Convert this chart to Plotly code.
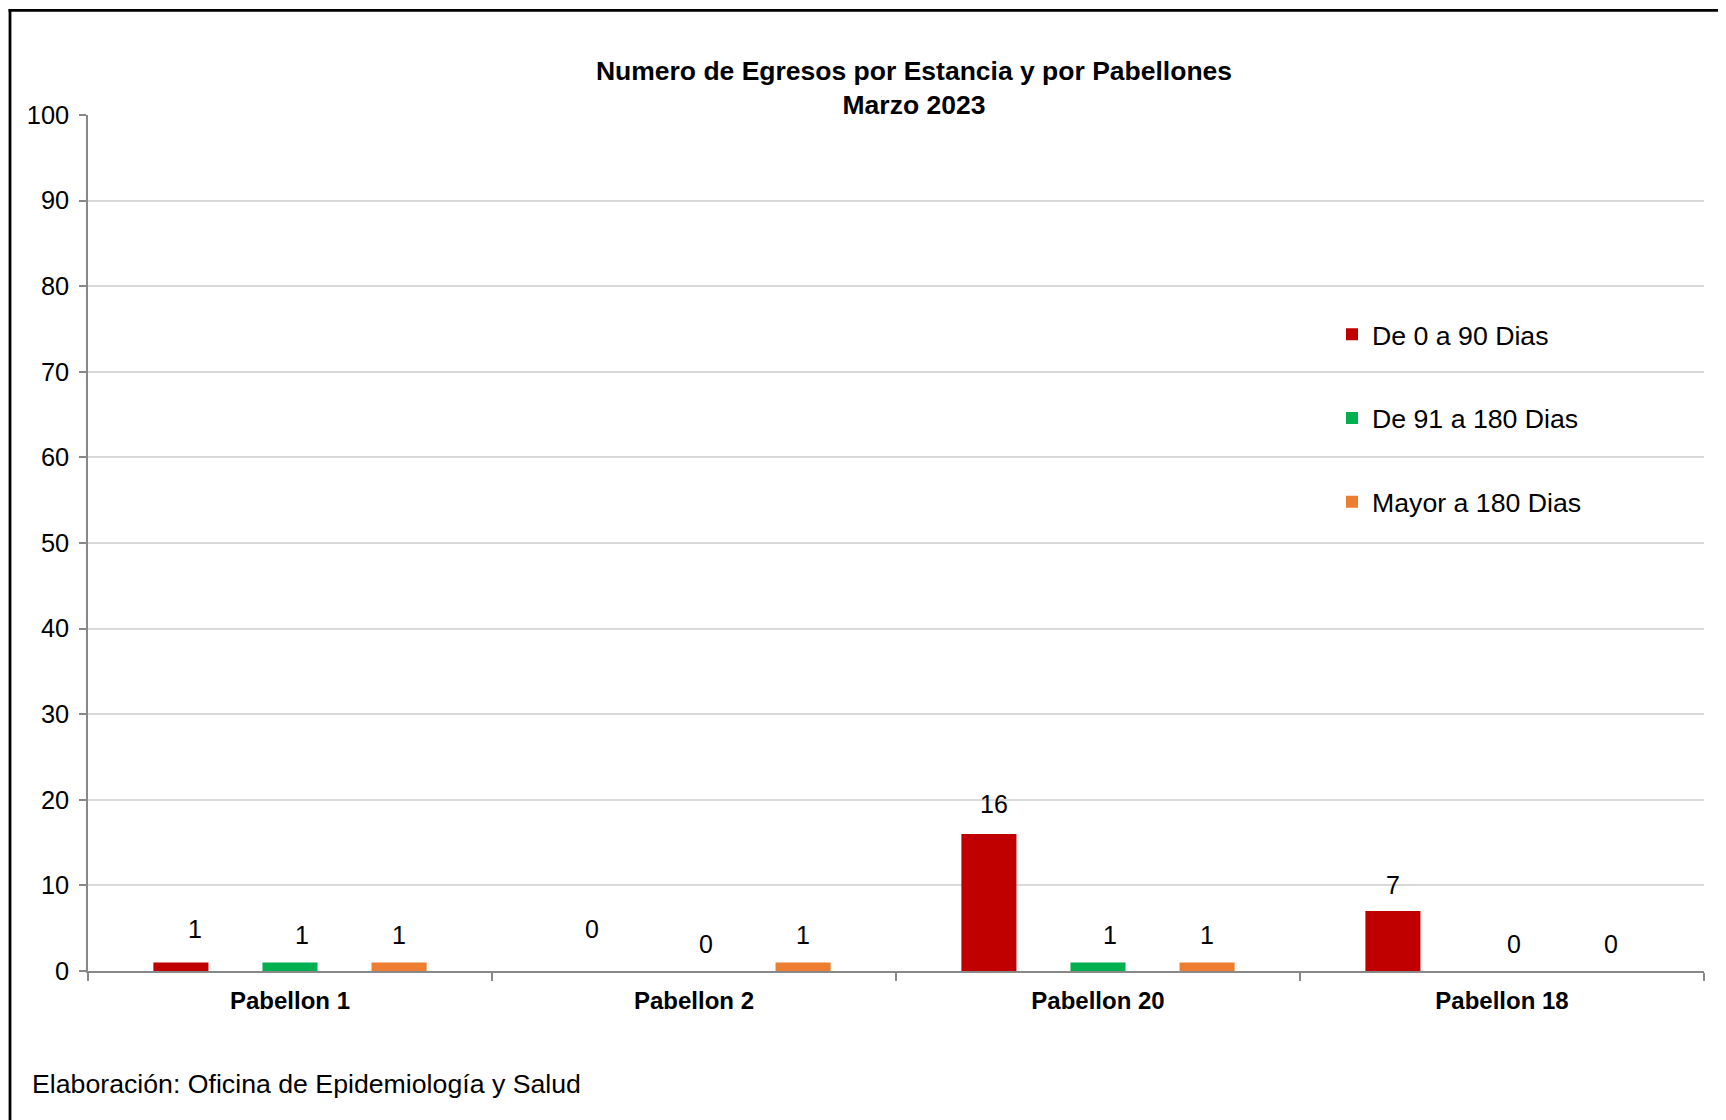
import plotly.graph_objects as go

categories = ["Pabellon 1", "Pabellon 2", "Pabellon 20", "Pabellon 18"]
series_names = ["De 0 a 90 Dias", "De 91 a 180 Dias", "Mayor a 180 Dias"]
de_0_a_90 = [1, 0, 16, 7]
de_91_a_180 = [1, 0, 1, 0]
mayor_180 = [1, 1, 1, 0]
y_ticks = list(range(0, 101, 10))

colors = ["#C00000", "#00B050", "#ED7D31"]
series_values = [de_0_a_90, de_91_a_180, mayor_180]
# label nudges (pixels) mimicking the manual placement of the original labels
label_dx = [[14, 7, 5, 0], [12, 12, 12, 12], [0, 0, 0, 0]]
label_dy = [[6, 15, 3, -1], [0, 0, 0, 0], [0, 0, 0, 0]]

FONT = "Arial, Liberation Sans, sans-serif"
OFF = 8  # page body margin
W, H = 1726 - OFF, 1120 - OFF
L = 88 - OFF
R = W - (1704 - OFF)
T = 114.5 - OFF
B = H - (971 - OFF)
pw = W - L - R
ph = H - T - B
bargap = 0.19
bargroupgap = 0.495


def px_x(page_x):
    return (page_x - OFF - L) / pw


def px_y(page_y):
    return ((H - B) - (page_y - OFF)) / ph


fig = go.Figure()
for name, vals, col in zip(series_names, series_values, colors):
    fig.add_trace(go.Bar(
        name=name, x=categories, y=vals, marker=dict(color=col, line=dict(width=0)),
        legendgroup=name,
    ))

slot = (1 - bargap) / len(series_values)
annotations = []
for j, vals in enumerate(series_values):
    for i, v in enumerate(vals):
        annotations.append(dict(
            x=i + (j - 1) * slot, y=v, xref="x", yref="y", text=str(v),
            showarrow=False, yanchor="middle", yshift=27 + label_dy[j][i], xshift=label_dx[j][i],
            font=dict(family=FONT, size=25, color="#000000"),
        ))

annotations.append(dict(
    x=px_x(30), y=px_y(1084), xref="paper", yref="paper",
    text="Elaboración: Oficina de Epidemiología y Salud", showarrow=False,
    xanchor="left", yanchor="middle", font=dict(family=FONT, size=26.7, color="#000000"),
))

shapes = [
    dict(type="line", xref="paper", yref="paper", x0=px_x(10), x1=px_x(10),
         y0=px_y(8.5), y1=px_y(1140), line=dict(color="#000000", width=2.8)),
    dict(type="line", xref="paper", yref="paper", x0=px_x(8.6), x1=px_x(1760),
         y0=px_y(9.8), y1=px_y(9.8), line=dict(color="#000000", width=2.8)),
]

fig.update_layout(
    width=W, height=H,
    margin=dict(l=L, r=R, t=T, b=B, autoexpand=False),
    paper_bgcolor="#FFFFFF", plot_bgcolor="#FFFFFF",
    barmode="group", bargap=bargap, bargroupgap=bargroupgap,
    title=dict(
        text="<b>Numero de Egresos por Estancia y por Pabellones<br>Marzo 2023</b>",
        x=(914 - OFF) / W, xanchor="center", y=1 - 71.5 / H, yanchor="top",
        font=dict(family=FONT, size=26.5, color="#000000"),
    ),
    font=dict(family=FONT, color="#000000"),
    legend=dict(
        x=px_x(1332), xanchor="left", y=px_y(310), yanchor="top",
        font=dict(family=FONT, size=26.7, color="#000000"),
        tracegroupgap=46, bgcolor="rgba(0,0,0,0)", traceorder="grouped",
    ),
    xaxis=dict(
        showline=True, linecolor="#888888", linewidth=1.5,
        ticks="outside", tickson="boundaries", ticklen=8, tickcolor="#888888", tickwidth=1.5,
        tickfont=dict(family=FONT, size=24, color="#000000"),
        ticklabelstandoff=7,
        showgrid=False,
    ),
    yaxis=dict(
        range=[0, 100], tickvals=y_ticks, showline=True, linecolor="#888888", linewidth=1.5,
        ticks="outside", ticklen=7, tickcolor="#888888", tickwidth=1.5,
        ticklabelstandoff=5,
        showgrid=True, gridcolor="#D9D9D9", gridwidth=1.5, zeroline=False,
        tickfont=dict(family=FONT, size=25.4, color="#000000"),
    ),
    annotations=annotations,
    shapes=shapes,
)
fig.update_xaxes(tickprefix="<b>", ticksuffix="</b>")

fig.write_html("out.html")
